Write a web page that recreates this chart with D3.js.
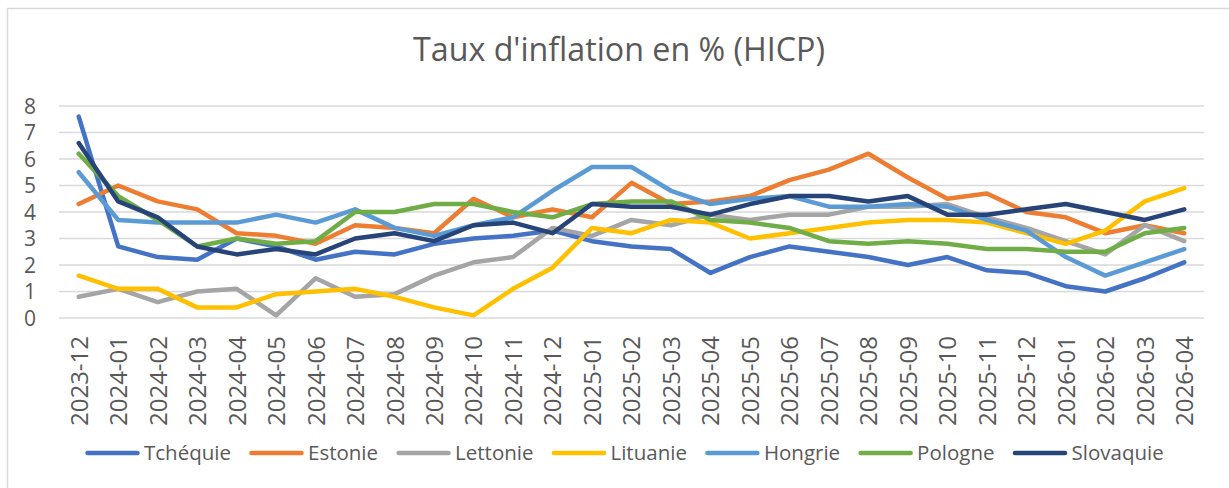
<!DOCTYPE html>
<html>
<head>
<meta charset="utf-8">
<script src="https://cdn.jsdelivr.net/npm/d3@7"></script>
<style>
  body { margin: 0; background: #fff; }
  svg { display: block; font-family: 'Open Sans', sans-serif; }
</style>
</head>
<body>
<div id="chart"></div>
<script>
// data
const months = ['2023-12', '2024-01', '2024-02', '2024-03', '2024-04', '2024-05', '2024-06',
    '2024-07', '2024-08', '2024-09', '2024-10', '2024-11', '2024-12', '2025-01', '2025-02',
    '2025-03', '2025-04', '2025-05', '2025-06', '2025-07', '2025-08', '2025-09', '2025-10',
    '2025-11', '2025-12', '2026-01', '2026-02', '2026-03', '2026-04'];
const yTicks = [0, 1, 2, 3, 4, 5, 6, 7, 8];

const tchequie = [7.6, 2.7, 2.3, 2.2, 3.0, 2.7, 2.2, 2.5, 2.4, 2.8, 3.0, 3.1, 3.3, 2.9, 2.7,
    2.6, 1.7, 2.3, 2.7, 2.5, 2.3, 2.0, 2.3, 1.8, 1.7, 1.2, 1.0, 1.5, 2.1];
const estonie = [4.3, 5.0, 4.4, 4.1, 3.2, 3.1, 2.8, 3.5, 3.4, 3.2, 4.5, 3.8, 4.1, 3.8, 5.1,
    4.3, 4.4, 4.6, 5.2, 5.6, 6.2, 5.3, 4.5, 4.7, 4.0, 3.8, 3.2, 3.5, 3.2];
const lettonie = [0.8, 1.1, 0.6, 1.0, 1.1, 0.1, 1.5, 0.8, 0.9, 1.6, 2.1, 2.3, 3.4, 3.1, 3.7,
    3.5, 3.9, 3.7, 3.9, 3.9, 4.2, 4.2, 4.3, 3.8, 3.4, 2.9, 2.4, 3.5, 2.9];
const lituanie = [1.6, 1.1, 1.1, 0.4, 0.4, 0.9, 1.0, 1.1, 0.8, 0.4, 0.1, 1.1, 1.9, 3.4, 3.2,
    3.7, 3.6, 3.0, 3.2, 3.4, 3.6, 3.7, 3.7, 3.6, 3.2, 2.8, 3.3, 4.4, 4.9];
const hongrie = [5.5, 3.7, 3.6, 3.6, 3.6, 3.9, 3.6, 4.1, 3.4, 3.1, 3.5, 3.8, 4.8, 5.7, 5.7,
    4.8, 4.3, 4.5, 4.6, 4.2, 4.2, 4.3, 4.2, 3.7, 3.3, 2.3, 1.6, 2.1, 2.6];
const pologne = [6.2, 4.6, 3.7, 2.7, 3.0, 2.8, 2.9, 4.0, 4.0, 4.3, 4.3, 4.0, 3.8, 4.3, 4.4,
    4.4, 3.7, 3.6, 3.4, 2.9, 2.8, 2.9, 2.8, 2.6, 2.6, 2.5, 2.5, 3.2, 3.4];
const slovaquie = [6.6, 4.4, 3.8, 2.7, 2.4, 2.6, 2.4, 3.0, 3.2, 2.9, 3.5, 3.6, 3.2, 4.3, 4.2,
    4.2, 3.9, 4.3, 4.6, 4.6, 4.4, 4.6, 3.9, 3.9, 4.1, 4.3, 4.0, 3.7, 4.1];

const seriesNames = ['Tchéquie', 'Estonie', 'Lettonie', 'Lituanie', 'Hongrie', 'Pologne', 'Slovaquie'];
const seriesValues = [tchequie, estonie, lettonie, lituanie, hongrie, pologne, slovaquie];
const seriesColors = ['#4472C4', '#ED7D31', '#A5A5A5', '#FFC000', '#5B9BD5', '#70AD47', '#264478'];

const width = 1229;
const height = 488;
const textColor = '#595959';
const plot = { left: 59, right: 1204, top: 106, bottom: 318 };

const svg = d3
    .select('#chart')
    .append('svg')
    .attr('width', width)
    .attr('height', height);

// chart frame (only top/left edges are inside the picture)
svg.append('rect')
    .attr('x', 7.5)
    .attr('y', 8.5)
    .attr('width', width + 20)
    .attr('height', height + 20)
    .attr('fill', '#fff')
    .attr('stroke', '#D9D9D9')
    .attr('stroke-width', 1.5);

// shrink/grow font so a text fills the width it has in the reference
const fitText = (sel, targetWidth, baseSize) => {
    sel.style('font-size', baseSize + 'px');
    const w = sel.node().getComputedTextLength();
    sel.style('font-size', (baseSize * targetWidth / w).toFixed(2) + 'px');
    return sel;
};

// title
const title = svg.append('text')
    .attr('x', 619)
    .attr('y', 61)
    .attr('text-anchor', 'middle')
    .attr('fill', textColor)
    .text("Taux d'inflation en % (HICP)");
fitText(title, 412, 28);

const x = d3.scalePoint()
    .domain(months)
    .range([plot.left, plot.right])
    .padding(0.5);

const y = d3.scaleLinear()
    .domain([0, 8])
    .range([plot.bottom, plot.top]);

// gridlines
svg.append('g')
    .selectAll('line')
    .data(yTicks)
    .join('line')
    .attr('x1', plot.left)
    .attr('x2', plot.right)
    .attr('y1', d => y(d))
    .attr('y2', d => y(d))
    .attr('stroke', '#D9D9D9')
    .attr('stroke-width', 1.5);

// y labels
const yAxis = svg.append('g')
    .attr('transform', `translate(36,0)`)
    .call(d3.axisLeft(y).tickValues(yTicks).tickSize(0).tickPadding(0));
yAxis.select('.domain').remove();
yAxis.selectAll('text')
    .attr('fill', textColor)
    .style('font-family', "'Open Sans', sans-serif")
    .style('font-size', '21px')
    .attr('dy', '0.35em');

// x labels, rotated
const xAxis = svg.append('g')
    .attr('transform', `translate(0,336)`)
    .call(d3.axisBottom(x).tickSize(0).tickPadding(0));
xAxis.select('.domain').remove();
const xLabels = xAxis.selectAll('text')
    .attr('fill', textColor)
    .style('font-family', "'Open Sans', sans-serif")
    .attr('text-anchor', 'end')
    .attr('transform', 'rotate(-90)')
    .attr('x', 0)
    .attr('y', 0)
    .attr('dy', '0.35em');
fitText(d3.select(xLabels.node()), 90, 22);
xLabels.style('font-size', d3.select(xLabels.node()).style('font-size'));

// lines
const line = d3.line()
    .x((d, i) => x(months[i]))
    .y(d => y(d));

svg.append('g')
    .attr('fill', 'none')
    .selectAll('path')
    .data(seriesValues)
    .join('path')
    .attr('d', line)
    .attr('stroke', (d, i) => seriesColors[i])
    .attr('stroke-width', 4.5)
    .attr('stroke-linejoin', 'round')
    .attr('stroke-linecap', 'round');

// legend
const legend = svg.append('g').attr('transform', 'translate(0,453)');
const entries = legend.selectAll('g')
    .data(seriesNames)
    .join('g');
entries.append('line')
    .attr('x1', 2.5)
    .attr('x2', 52.5)
    .attr('stroke', (d, i) => seriesColors[i])
    .attr('stroke-width', 4.5)
    .attr('stroke-linecap', 'round');
const legendText = entries.append('text')
    .attr('x', 59)
    .attr('dy', '0.35em')
    .attr('fill', textColor)
    .text(d => d);
fitText(d3.select(legendText.node()), 87, 22);
legendText.style('font-size', d3.select(legendText.node()).style('font-size'));

let cursor = 85;
entries.each(function () {
    const g = d3.select(this);
    g.attr('transform', `translate(${cursor},0)`);
    const w = g.select('text').node().getComputedTextLength();
    cursor += 59 + w + 18;
});
</script>
</body>
</html>
